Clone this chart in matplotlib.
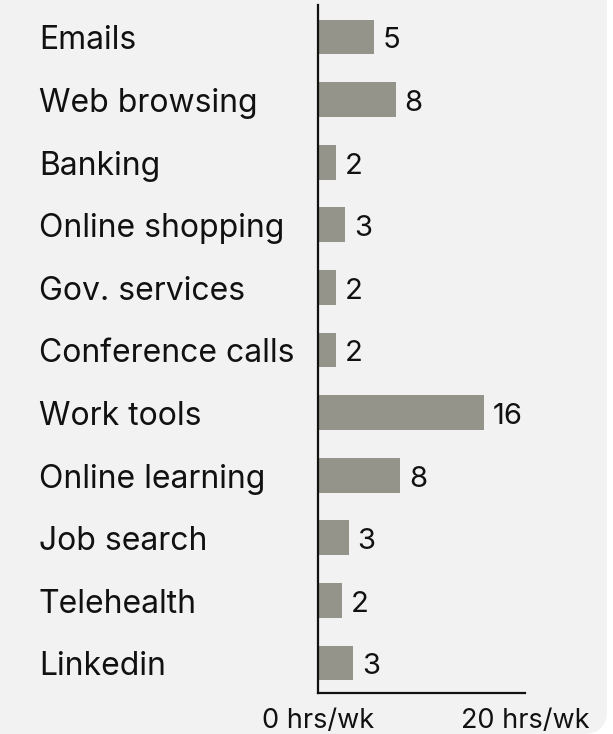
import matplotlib.pyplot as plt
from matplotlib.patches import FancyBboxPatch
from matplotlib.transforms import blended_transform_factory

plt.rcParams['font.family'] = ['Inter', 'DejaVu Sans']

categories = ["Emails", "Web browsing", "Banking", "Online shopping",
              "Gov. services", "Conference calls", "Work tools",
              "Online learning", "Job search", "Telehealth", "Linkedin"]
hours = [5.4, 7.5, 1.7, 2.65, 1.7, 1.7, 16.0, 7.9, 2.95, 2.3, 3.4]
tick_values = [0, 20]
tick_labels = ["0 hrs/wk", "20 hrs/wk"]

W, H = 613, 734
dpi = 100
bg = "#f2f2f2"
bar_color = "#94948a"

fig = plt.figure(figsize=(W / dpi, H / dpi), dpi=dpi, facecolor="white")

# light panel with a rounded lower-right corner
panel = FancyBboxPatch((-40, 0), 607 + 40, H + 40,
                       boxstyle="round,pad=0,rounding_size=24",
                       transform=None, facecolor=bg, edgecolor="none",
                       zorder=-10)
fig.patches.append(panel)

ax = fig.add_axes([318 / W, (H - 693) / H, (525 - 318) / W, (693 - 5) / H])
ax.set_facecolor("none")

y = list(range(len(categories)))
ax.barh(y, hours, height=0.555, color=bar_color, zorder=2)

ax.set_xlim(0, 20)
ax.set_ylim(10.48, -0.51)

for s in ["top", "right"]:
    ax.spines[s].set_visible(False)
for s in ["left", "bottom"]:
    ax.spines[s].set_linewidth(1.6)
    ax.spines[s].set_color("#111111")

ax.set_yticks([])
ax.set_xticks(tick_values)
ax.set_xticklabels(tick_labels, fontsize=19.5, color="#111111")
ax.tick_params(axis="x", length=0, pad=10.5)

# category names, left aligned in the panel, baseline a little under the bar centre
trans = blended_transform_factory(fig.transFigure, ax.transData)
for yi, name in zip(y, categories):
    ax.annotate(name, (39 / W, yi), xycoords=trans, xytext=(0, -9),
                textcoords="offset points", ha="left", va="baseline",
                fontsize=23, color="#111111")

# value labels at the bar ends
for yi, v in zip(y, hours):
    ax.annotate(f"{v:.0f}", (v, yi), xytext=(6.5, -8.3), textcoords="offset points",
                ha="left", va="baseline", fontsize=21, color="#111111")

fig.savefig("out.png", dpi=dpi, facecolor="white")
